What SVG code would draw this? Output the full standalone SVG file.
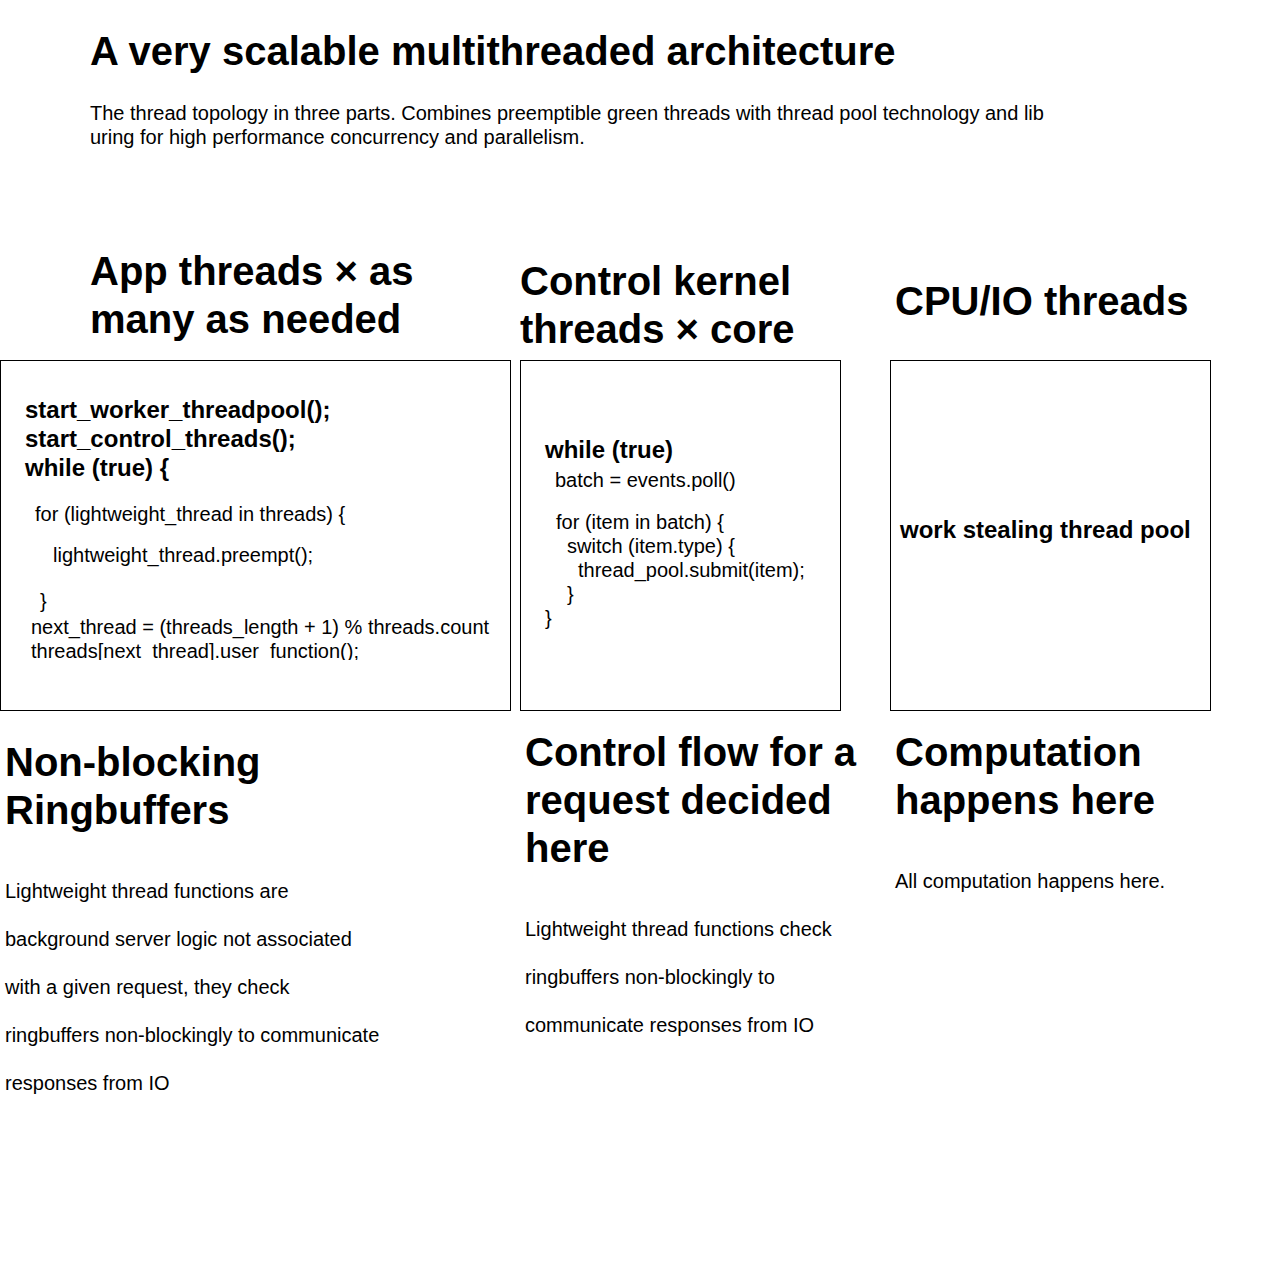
<svg xmlns="http://www.w3.org/2000/svg" width="1281" height="1261" viewBox="0 0 1281 1261">
<style>
text{font-family:"Liberation Sans",Arial,sans-serif;fill:#000}
.h{font-size:40px;font-weight:bold}
.b{font-size:20px}
.cb{font-size:24px;font-weight:bold}
.box{fill:#fff;stroke:#000;stroke-width:1}
</style>
<defs>
<clipPath id="clipL"><rect x="1" y="361" width="509" height="299"/></clipPath>
</defs>
<rect width="1281" height="1261" fill="#fff"/>
<g id="title">
<text class="h" x="90" y="65">A very scalable multithreaded architecture</text>
<text class="b" x="90" y="120">The thread topology in three parts. Combines preemptible green threads with thread pool technology and lib</text>
<text class="b" x="90" y="144">uring for high performance concurrency and parallelism.</text>
</g>
<g id="heading-app">
<text class="h" x="90" y="285">App threads × as</text>
<text class="h" x="90" y="333">many as needed</text>
</g>
<g id="heading-control">
<text class="h" x="520" y="295">Control kernel</text>
<text class="h" x="520" y="343">threads × core</text>
</g>
<g id="heading-cpu">
<text class="h" x="895" y="315">CPU/IO threads</text>
</g>
<g id="node-app">
<rect class="box" x="0.5" y="360.5" width="510" height="350"/>
<g clip-path="url(#clipL)">
<text class="cb" x="25" y="418">start_worker_threadpool();</text>
<text class="cb" x="25" y="447">start_control_threads();</text>
<text class="cb" x="25" y="476">while (true) {</text>
<text class="b" x="35" y="521">for (lightweight_thread in threads) {</text>
<text class="b" x="53" y="562">lightweight_thread.preempt();</text>
<text class="b" x="40" y="608">}</text>
<text class="b" x="31" y="634">next_thread = (threads_length + 1) % threads.count</text>
<text class="b" x="31" y="658">threads[next_thread].user_function();</text>
</g>
</g>
<g id="node-control">
<rect class="box" x="520.5" y="360.5" width="320" height="350"/>
<text class="cb" x="545" y="458">while (true)</text>
<text class="b" x="555" y="487">batch = events.poll()</text>
<text class="b" x="556" y="529">for (item in batch) {</text>
<text class="b" x="567" y="553">switch (item.type) {</text>
<text class="b" x="578" y="577">thread_pool.submit(item);</text>
<text class="b" x="567" y="601">}</text>
<text class="b" x="545" y="625">}</text>
</g>
<g id="node-cpu">
<rect class="box" x="890.5" y="360.5" width="320" height="350"/>
<text class="cb" x="900" y="538">work stealing thread pool</text>
</g>
<g id="connectors"></g>
<g id="note-ringbuffers">
<text class="h" x="5" y="776">Non-blocking</text>
<text class="h" x="5" y="824">Ringbuffers</text>
<text class="b" x="5" y="898">Lightweight thread functions are</text>
<text class="b" x="5" y="946">background server logic not associated</text>
<text class="b" x="5" y="994">with a given request, they check</text>
<text class="b" x="5" y="1042">ringbuffers non-blockingly to communicate</text>
<text class="b" x="5" y="1090">responses from IO</text>
</g>
<g id="note-control">
<text class="h" x="525" y="766">Control flow for a</text>
<text class="h" x="525" y="814">request decided</text>
<text class="h" x="525" y="862">here</text>
<text class="b" x="525" y="936">Lightweight thread functions check</text>
<text class="b" x="525" y="984">ringbuffers non-blockingly to</text>
<text class="b" x="525" y="1032">communicate responses from IO</text>
</g>
<g id="note-cpu">
<text class="h" x="895" y="766">Computation</text>
<text class="h" x="895" y="814">happens here</text>
<text class="b" x="895" y="888">All computation happens here.</text>
</g>
</svg>
